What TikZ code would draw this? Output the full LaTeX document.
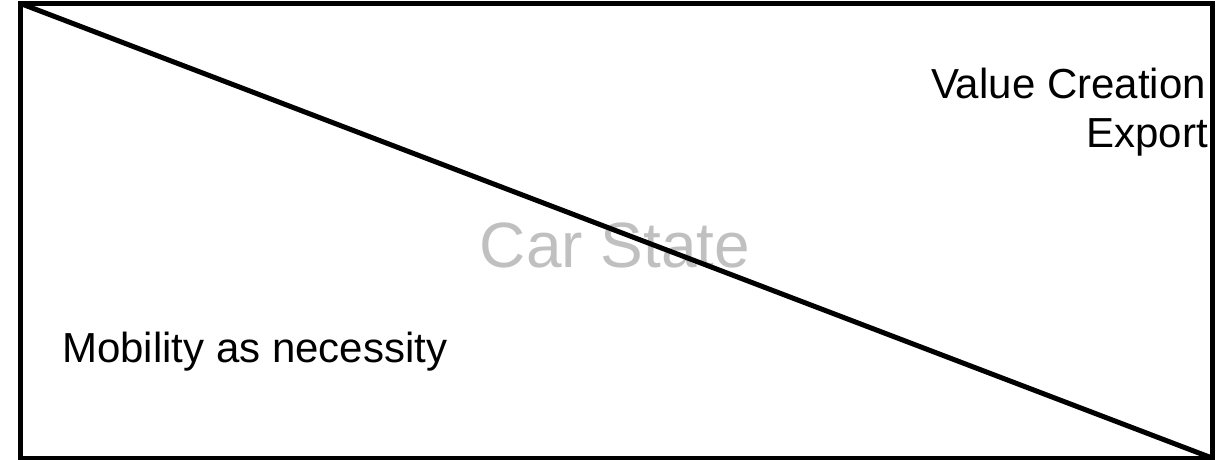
\documentclass[tikz,border=0pt]{standalone}
\usepackage{fontspec}
\setmainfont{Liberation Sans}
\definecolor{lightgraytext}{RGB}{192,192,192}
\begin{document}
\begin{tikzpicture}[x=1pt,y=-1pt,
  frame/.style={line width=5pt,line join=miter},
  label/.style={inner sep=0pt,font=\fontsize{42}{50}\selectfont},
  title/.style={inner sep=0pt,text=lightgraytext,font=\fontsize{64}{76}\selectfont}]
\useasboundingbox (0,0) rectangle (1217,459);
\clip (0,0) rectangle (1217,459);
\coordinate (tl) at (20.5,3.5);
\coordinate (br) at (1212,458);
\draw[frame] (tl) rectangle (br);
\node[title,anchor=base] (car) at (615,267) {Car State};
\draw[frame] (tl) -- (br);
\node[label,anchor=base east] (vc) at (1206,98) {Value Creation};
\node[label,anchor=base east] (ex) at (1208,147) {Export};
\node[label,anchor=base west] (mob) at (62,362) {Mobility as necessity};
\end{tikzpicture}
\end{document}
